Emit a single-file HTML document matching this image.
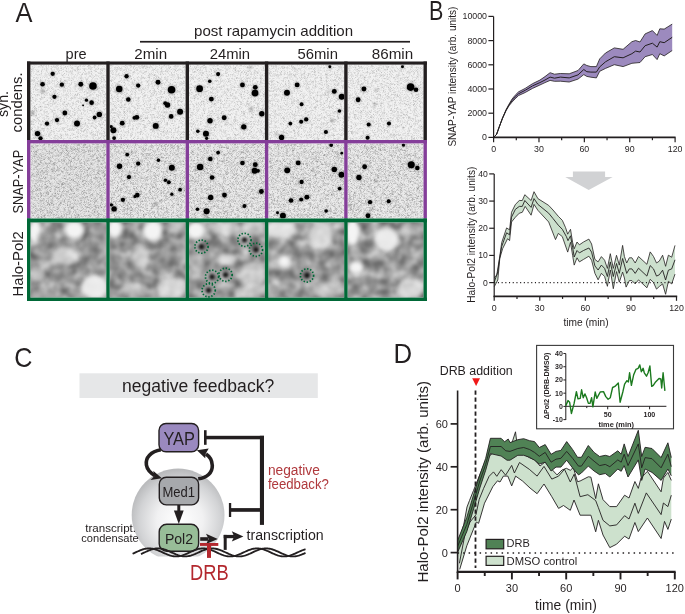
<!DOCTYPE html>
<html><head><meta charset="utf-8"><style>
html,body{margin:0;padding:0;background:#fff;}
#root{position:relative;width:685px;height:614px;overflow:hidden;background:#fff;}
svg text{font-family:"Liberation Sans",sans-serif;}
</style></head><body><div id="root">
<svg width="685" height="614" viewBox="0 0 685 614" style="display:block;will-change:transform;font-family:'Liberation Sans',sans-serif">
<defs>
<filter id="noise" color-interpolation-filters="sRGB" x="0" y="0" width="100%" height="100%">
 <feTurbulence type="fractalNoise" baseFrequency="1.7" numOctaves="2" seed="3" result="t"/>
 <feColorMatrix type="matrix" values="0 0 0 0 0  0 0 0 0 0  0 0 0 0 0  -2.4 0 0 0 1.25" />
 <feGaussianBlur stdDeviation="0.5"/>
</filter>
<filter id="noise2" color-interpolation-filters="sRGB" x="0" y="0" width="100%" height="100%">
 <feTurbulence type="fractalNoise" baseFrequency="1.7" numOctaves="2" seed="7" result="t"/>
 <feColorMatrix type="matrix" values="0 0 0 0 0  0 0 0 0 0  0 0 0 0 0  -2.4 0 0 0 1.3" />
 <feGaussianBlur stdDeviation="0.5"/>
</filter>
<filter id="mottle" color-interpolation-filters="sRGB" x="0" y="0" width="100%" height="100%">
 <feTurbulence type="fractalNoise" baseFrequency="0.35" numOctaves="2" seed="5"/>
 <feColorMatrix type="matrix" values="0 0 0 0 0  0 0 0 0 0  0 0 0 0 0  -3.0 0 0 0 1.55" />
 <feGaussianBlur stdDeviation="0.6"/>
</filter>
<filter id="cloud" color-interpolation-filters="sRGB" x="0" y="0" width="100%" height="100%">
 <feTurbulence type="fractalNoise" baseFrequency="0.1" numOctaves="2" seed="11"/>
 <feColorMatrix type="matrix" values="0.65 0 0 0 0.27  0.65 0 0 0 0.27  0.65 0 0 0 0.27  0 0 0 0 1" />
 <feGaussianBlur stdDeviation="1.6"/>
</filter>
<filter id="b04" color-interpolation-filters="sRGB" x="-50%" y="-50%" width="200%" height="200%"><feGaussianBlur stdDeviation="0.5"/></filter>
<filter id="b1" color-interpolation-filters="sRGB" x="-50%" y="-50%" width="200%" height="200%"><feGaussianBlur stdDeviation="1.2"/></filter>
<filter id="b4" color-interpolation-filters="sRGB" x="-80%" y="-80%" width="260%" height="260%"><feGaussianBlur stdDeviation="4"/></filter>
<filter id="b3" color-interpolation-filters="sRGB" x="-80%" y="-80%" width="260%" height="260%"><feGaussianBlur stdDeviation="3"/></filter>
<filter id="b2" color-interpolation-filters="sRGB" x="-80%" y="-80%" width="260%" height="260%"><feGaussianBlur stdDeviation="2"/></filter>
<radialGradient id="sph" cx="0.52" cy="0.56" r="0.55">
 <stop offset="0" stop-color="#ffffff"/>
 <stop offset="0.45" stop-color="#f1f1f2"/>
 <stop offset="0.8" stop-color="#d2d3d5"/>
 <stop offset="1" stop-color="#b9babc"/>
</radialGradient>
</defs>
<text x="15.60" y="21.50" font-size="27" fill="#231f20" textLength="17.00" lengthAdjust="spacingAndGlyphs">A</text>
<text x="194.10" y="35.80" font-size="15" fill="#231f20" textLength="159.00" lengthAdjust="spacingAndGlyphs">post rapamycin addition</text>
<rect x="140" y="40.9" width="270" height="1.7" fill="#231f20"/>
<text x="65.60" y="58.60" font-size="15" fill="#231f20" textLength="21.00" lengthAdjust="spacingAndGlyphs">pre</text>
<text x="134.30" y="58.60" font-size="15" fill="#231f20" textLength="32.80" lengthAdjust="spacingAndGlyphs">2min</text>
<text x="209.70" y="58.60" font-size="15" fill="#231f20" textLength="40.40" lengthAdjust="spacingAndGlyphs">24min</text>
<text x="297.50" y="58.60" font-size="15" fill="#231f20" textLength="40.40" lengthAdjust="spacingAndGlyphs">56min</text>
<text x="371.80" y="58.60" font-size="15" fill="#231f20" textLength="41.40" lengthAdjust="spacingAndGlyphs">86min</text>
<text transform="translate(7.80,104.00) rotate(-90)" x="0" y="0" font-size="15" fill="#231f20" text-anchor="middle" textLength="26.00" lengthAdjust="spacingAndGlyphs">syn.</text>
<text transform="translate(22.30,102.40) rotate(-90)" x="0" y="0" font-size="15" fill="#231f20" text-anchor="middle" textLength="60.00" lengthAdjust="spacingAndGlyphs">condens.</text>
<text transform="translate(22.60,181.70) rotate(-90)" x="0" y="0" font-size="15" fill="#231f20" text-anchor="middle" textLength="63.80" lengthAdjust="spacingAndGlyphs">SNAP-YAP</text>
<text transform="translate(22.60,263.90) rotate(-90)" x="0" y="0" font-size="15" fill="#231f20" text-anchor="middle" textLength="65.20" lengthAdjust="spacingAndGlyphs">Halo-Pol2</text>
<g>
<clipPath id="c00"><rect x="30.40" y="64.60" width="75.90" height="75.40"/></clipPath>
<g clip-path="url(#c00)">
<rect x="30.40" y="64.60" width="75.90" height="75.40" fill="#f2f2f2"/>
<rect x="30.40" y="64.60" width="75.90" height="75.40" fill="#000" filter="url(#noise)" opacity="0.22"/>
<rect x="30.40" y="64.60" width="75.90" height="75.40" fill="#000" filter="url(#mottle)" opacity="0.1"/>
<circle cx="42.55" cy="91.01" r="2.23" fill="#555" opacity="0.45" filter="url(#b1)"/>
<circle cx="32.41" cy="113.04" r="2.23" fill="#555" opacity="0.45" filter="url(#b1)"/>
<circle cx="52.68" cy="73.84" r="2.60" fill="#000" opacity="0.25" filter="url(#b1)"/>
<circle cx="52.68" cy="73.84" r="2.16" fill="#000" filter="url(#b04)"/>
<circle cx="42.55" cy="84.25" r="2.76" fill="#000" opacity="0.25" filter="url(#b1)"/>
<circle cx="42.55" cy="84.25" r="2.30" fill="#000" filter="url(#b04)"/>
<circle cx="61.88" cy="84.66" r="2.60" fill="#000" opacity="0.25" filter="url(#b1)"/>
<circle cx="61.88" cy="84.66" r="2.16" fill="#000" filter="url(#b04)"/>
<circle cx="80.80" cy="84.25" r="2.92" fill="#000" opacity="0.25" filter="url(#b1)"/>
<circle cx="80.80" cy="84.25" r="2.43" fill="#000" filter="url(#b04)"/>
<circle cx="92.97" cy="86.01" r="4.54" fill="#000" opacity="0.25" filter="url(#b1)"/>
<circle cx="92.97" cy="86.01" r="3.79" fill="#000" filter="url(#b04)"/>
<circle cx="54.44" cy="96.82" r="2.60" fill="#000" opacity="0.25" filter="url(#b1)"/>
<circle cx="54.44" cy="96.82" r="2.16" fill="#000" filter="url(#b04)"/>
<circle cx="86.48" cy="100.20" r="1.95" fill="#000" opacity="0.25" filter="url(#b1)"/>
<circle cx="86.48" cy="100.20" r="1.62" fill="#000" filter="url(#b04)"/>
<circle cx="91.62" cy="102.64" r="2.76" fill="#000" opacity="0.25" filter="url(#b1)"/>
<circle cx="91.62" cy="102.64" r="2.30" fill="#000" filter="url(#b04)"/>
<circle cx="83.10" cy="105.34" r="1.14" fill="#000" opacity="0.25" filter="url(#b1)"/>
<circle cx="83.10" cy="105.34" r="0.95" fill="#000" filter="url(#b04)"/>
<circle cx="64.85" cy="113.04" r="2.92" fill="#000" opacity="0.25" filter="url(#b1)"/>
<circle cx="64.85" cy="113.04" r="2.43" fill="#000" filter="url(#b04)"/>
<circle cx="99.32" cy="114.40" r="3.24" fill="#000" opacity="0.25" filter="url(#b1)"/>
<circle cx="99.32" cy="114.40" r="2.70" fill="#000" filter="url(#b04)"/>
<circle cx="94.59" cy="117.50" r="2.27" fill="#000" opacity="0.25" filter="url(#b1)"/>
<circle cx="94.59" cy="117.50" r="1.89" fill="#000" filter="url(#b04)"/>
<circle cx="57.01" cy="120.07" r="2.60" fill="#000" opacity="0.25" filter="url(#b1)"/>
<circle cx="57.01" cy="120.07" r="2.16" fill="#000" filter="url(#b04)"/>
<circle cx="47.01" cy="123.59" r="2.60" fill="#000" opacity="0.25" filter="url(#b1)"/>
<circle cx="47.01" cy="123.59" r="2.16" fill="#000" filter="url(#b04)"/>
<circle cx="77.02" cy="123.45" r="3.57" fill="#000" opacity="0.25" filter="url(#b1)"/>
<circle cx="77.02" cy="123.45" r="2.97" fill="#000" filter="url(#b04)"/>
<circle cx="37.54" cy="133.59" r="3.24" fill="#000" opacity="0.25" filter="url(#b1)"/>
<circle cx="37.54" cy="133.59" r="2.70" fill="#000" filter="url(#b04)"/>
<circle cx="40.52" cy="138.32" r="2.60" fill="#000" opacity="0.25" filter="url(#b1)"/>
<circle cx="40.52" cy="138.32" r="2.16" fill="#000" filter="url(#b04)"/>
</g>
<clipPath id="c01"><rect x="109.70" y="64.60" width="75.90" height="75.40"/></clipPath>
<g clip-path="url(#c01)">
<rect x="109.70" y="64.60" width="75.90" height="75.40" fill="#f2f2f2"/>
<rect x="109.70" y="64.60" width="75.90" height="75.40" fill="#000" filter="url(#noise)" opacity="0.22"/>
<rect x="109.70" y="64.60" width="75.90" height="75.40" fill="#000" filter="url(#mottle)" opacity="0.1"/>
<circle cx="126.55" cy="76.28" r="2.60" fill="#000" opacity="0.25" filter="url(#b1)"/>
<circle cx="126.55" cy="76.28" r="2.16" fill="#000" filter="url(#b04)"/>
<circle cx="119.25" cy="88.98" r="3.89" fill="#000" opacity="0.25" filter="url(#b1)"/>
<circle cx="119.25" cy="88.98" r="3.24" fill="#000" filter="url(#b04)"/>
<circle cx="138.17" cy="85.60" r="2.60" fill="#000" opacity="0.25" filter="url(#b1)"/>
<circle cx="138.17" cy="85.60" r="2.16" fill="#000" filter="url(#b04)"/>
<circle cx="158.04" cy="82.22" r="2.92" fill="#000" opacity="0.25" filter="url(#b1)"/>
<circle cx="158.04" cy="82.22" r="2.43" fill="#000" filter="url(#b04)"/>
<circle cx="171.56" cy="89.79" r="4.54" fill="#000" opacity="0.25" filter="url(#b1)"/>
<circle cx="171.56" cy="89.79" r="3.79" fill="#000" filter="url(#b04)"/>
<circle cx="128.30" cy="99.53" r="2.76" fill="#000" opacity="0.25" filter="url(#b1)"/>
<circle cx="128.30" cy="99.53" r="2.30" fill="#000" filter="url(#b04)"/>
<circle cx="167.51" cy="104.93" r="3.24" fill="#000" opacity="0.25" filter="url(#b1)"/>
<circle cx="167.51" cy="104.93" r="2.70" fill="#000" filter="url(#b04)"/>
<circle cx="165.21" cy="103.18" r="2.27" fill="#000" opacity="0.25" filter="url(#b1)"/>
<circle cx="165.21" cy="103.18" r="1.89" fill="#000" filter="url(#b04)"/>
<circle cx="180.08" cy="111.69" r="3.57" fill="#000" opacity="0.25" filter="url(#b1)"/>
<circle cx="180.08" cy="111.69" r="2.97" fill="#000" filter="url(#b04)"/>
<circle cx="136.82" cy="117.37" r="2.92" fill="#000" opacity="0.25" filter="url(#b1)"/>
<circle cx="136.82" cy="117.37" r="2.43" fill="#000" filter="url(#b04)"/>
<circle cx="134.39" cy="117.78" r="2.27" fill="#000" opacity="0.25" filter="url(#b1)"/>
<circle cx="134.39" cy="117.78" r="1.89" fill="#000" filter="url(#b04)"/>
<circle cx="171.16" cy="116.42" r="2.76" fill="#000" opacity="0.25" filter="url(#b1)"/>
<circle cx="171.16" cy="116.42" r="2.30" fill="#000" filter="url(#b04)"/>
<circle cx="122.22" cy="123.18" r="2.92" fill="#000" opacity="0.25" filter="url(#b1)"/>
<circle cx="122.22" cy="123.18" r="2.43" fill="#000" filter="url(#b04)"/>
<circle cx="155.75" cy="125.89" r="3.57" fill="#000" opacity="0.25" filter="url(#b1)"/>
<circle cx="155.75" cy="125.89" r="2.97" fill="#000" filter="url(#b04)"/>
<circle cx="113.43" cy="130.21" r="3.57" fill="#000" opacity="0.25" filter="url(#b1)"/>
<circle cx="113.43" cy="130.21" r="2.97" fill="#000" filter="url(#b04)"/>
<circle cx="111.14" cy="126.56" r="1.95" fill="#000" opacity="0.25" filter="url(#b1)"/>
<circle cx="111.14" cy="126.56" r="1.62" fill="#000" filter="url(#b04)"/>
<circle cx="114.11" cy="138.05" r="2.27" fill="#000" opacity="0.25" filter="url(#b1)"/>
<circle cx="114.11" cy="138.05" r="1.89" fill="#000" filter="url(#b04)"/>
</g>
<clipPath id="c02"><rect x="189.00" y="64.60" width="75.90" height="75.40"/></clipPath>
<g clip-path="url(#c02)">
<rect x="189.00" y="64.60" width="75.90" height="75.40" fill="#f2f2f2"/>
<rect x="189.00" y="64.60" width="75.90" height="75.40" fill="#000" filter="url(#noise)" opacity="0.22"/>
<rect x="189.00" y="64.60" width="75.90" height="75.40" fill="#000" filter="url(#mottle)" opacity="0.1"/>
<circle cx="249.89" cy="67.49" r="1.49" fill="#555" opacity="0.45" filter="url(#b1)"/>
<circle cx="251.24" cy="108.99" r="2.08" fill="#555" opacity="0.45" filter="url(#b1)"/>
<circle cx="218.12" cy="74.11" r="2.43" fill="#000" opacity="0.25" filter="url(#b1)"/>
<circle cx="218.12" cy="74.11" r="2.03" fill="#000" filter="url(#b04)"/>
<circle cx="209.74" cy="81.28" r="2.11" fill="#000" opacity="0.25" filter="url(#b1)"/>
<circle cx="209.74" cy="81.28" r="1.76" fill="#000" filter="url(#b04)"/>
<circle cx="199.60" cy="88.71" r="4.06" fill="#000" opacity="0.25" filter="url(#b1)"/>
<circle cx="199.60" cy="88.71" r="3.38" fill="#000" filter="url(#b04)"/>
<circle cx="211.36" cy="99.12" r="2.92" fill="#000" opacity="0.25" filter="url(#b1)"/>
<circle cx="211.36" cy="99.12" r="2.43" fill="#000" filter="url(#b04)"/>
<circle cx="242.45" cy="84.93" r="2.92" fill="#000" opacity="0.25" filter="url(#b1)"/>
<circle cx="242.45" cy="84.93" r="2.43" fill="#000" filter="url(#b04)"/>
<circle cx="255.29" cy="87.36" r="2.92" fill="#000" opacity="0.25" filter="url(#b1)"/>
<circle cx="255.29" cy="87.36" r="2.43" fill="#000" filter="url(#b04)"/>
<circle cx="255.02" cy="93.04" r="4.06" fill="#000" opacity="0.25" filter="url(#b1)"/>
<circle cx="255.02" cy="93.04" r="3.38" fill="#000" filter="url(#b04)"/>
<circle cx="224.20" cy="117.78" r="2.92" fill="#000" opacity="0.25" filter="url(#b1)"/>
<circle cx="224.20" cy="117.78" r="2.43" fill="#000" filter="url(#b04)"/>
<circle cx="210.01" cy="120.75" r="3.24" fill="#000" opacity="0.25" filter="url(#b1)"/>
<circle cx="210.01" cy="120.75" r="2.70" fill="#000" filter="url(#b04)"/>
<circle cx="261.78" cy="113.72" r="3.24" fill="#000" opacity="0.25" filter="url(#b1)"/>
<circle cx="261.78" cy="113.72" r="2.70" fill="#000" filter="url(#b04)"/>
<circle cx="243.80" cy="126.83" r="3.24" fill="#000" opacity="0.25" filter="url(#b1)"/>
<circle cx="243.80" cy="126.83" r="2.70" fill="#000" filter="url(#b04)"/>
<circle cx="197.84" cy="131.29" r="2.11" fill="#000" opacity="0.25" filter="url(#b1)"/>
<circle cx="197.84" cy="131.29" r="1.76" fill="#000" filter="url(#b04)"/>
<circle cx="205.95" cy="133.73" r="3.57" fill="#000" opacity="0.25" filter="url(#b1)"/>
<circle cx="205.95" cy="133.73" r="2.97" fill="#000" filter="url(#b04)"/>
<circle cx="206.63" cy="138.32" r="1.95" fill="#000" opacity="0.25" filter="url(#b1)"/>
<circle cx="206.63" cy="138.32" r="1.62" fill="#000" filter="url(#b04)"/>
</g>
<clipPath id="c03"><rect x="268.30" y="64.60" width="75.90" height="75.40"/></clipPath>
<g clip-path="url(#c03)">
<rect x="268.30" y="64.60" width="75.90" height="75.40" fill="#f2f2f2"/>
<rect x="268.30" y="64.60" width="75.90" height="75.40" fill="#000" filter="url(#noise)" opacity="0.22"/>
<rect x="268.30" y="64.60" width="75.90" height="75.40" fill="#000" filter="url(#mottle)" opacity="0.1"/>
<circle cx="340.38" cy="67.08" r="1.19" fill="#555" opacity="0.45" filter="url(#b1)"/>
<circle cx="327.53" cy="91.82" r="1.19" fill="#555" opacity="0.45" filter="url(#b1)"/>
<circle cx="276.84" cy="134.00" r="1.34" fill="#555" opacity="0.45" filter="url(#b1)"/>
<circle cx="332.27" cy="120.48" r="2.08" fill="#555" opacity="0.45" filter="url(#b1)"/>
<circle cx="329.83" cy="66.68" r="1.78" fill="#000" opacity="0.25" filter="url(#b1)"/>
<circle cx="329.83" cy="66.68" r="1.49" fill="#000" filter="url(#b04)"/>
<circle cx="297.12" cy="84.93" r="2.92" fill="#000" opacity="0.25" filter="url(#b1)"/>
<circle cx="297.12" cy="84.93" r="2.43" fill="#000" filter="url(#b04)"/>
<circle cx="286.98" cy="92.77" r="3.57" fill="#000" opacity="0.25" filter="url(#b1)"/>
<circle cx="286.98" cy="92.77" r="2.97" fill="#000" filter="url(#b04)"/>
<circle cx="334.29" cy="91.42" r="2.92" fill="#000" opacity="0.25" filter="url(#b1)"/>
<circle cx="334.29" cy="91.42" r="2.43" fill="#000" filter="url(#b04)"/>
<circle cx="341.73" cy="96.82" r="3.57" fill="#000" opacity="0.25" filter="url(#b1)"/>
<circle cx="341.73" cy="96.82" r="2.97" fill="#000" filter="url(#b04)"/>
<circle cx="301.58" cy="104.26" r="2.27" fill="#000" opacity="0.25" filter="url(#b1)"/>
<circle cx="301.58" cy="104.26" r="1.89" fill="#000" filter="url(#b04)"/>
<circle cx="339.43" cy="111.02" r="2.11" fill="#000" opacity="0.25" filter="url(#b1)"/>
<circle cx="339.43" cy="111.02" r="1.76" fill="#000" filter="url(#b04)"/>
<circle cx="306.18" cy="119.40" r="2.60" fill="#000" opacity="0.25" filter="url(#b1)"/>
<circle cx="306.18" cy="119.40" r="2.16" fill="#000" filter="url(#b04)"/>
<circle cx="301.17" cy="121.83" r="2.43" fill="#000" opacity="0.25" filter="url(#b1)"/>
<circle cx="301.17" cy="121.83" r="2.03" fill="#000" filter="url(#b04)"/>
<circle cx="290.36" cy="123.59" r="2.27" fill="#000" opacity="0.25" filter="url(#b1)"/>
<circle cx="290.36" cy="123.59" r="1.89" fill="#000" filter="url(#b04)"/>
<circle cx="325.91" cy="131.97" r="2.43" fill="#000" opacity="0.25" filter="url(#b1)"/>
<circle cx="325.91" cy="131.97" r="2.03" fill="#000" filter="url(#b04)"/>
<circle cx="281.57" cy="137.38" r="3.24" fill="#000" opacity="0.25" filter="url(#b1)"/>
<circle cx="281.57" cy="137.38" r="2.70" fill="#000" filter="url(#b04)"/>
</g>
<clipPath id="c04"><rect x="347.60" y="64.60" width="75.90" height="75.40"/></clipPath>
<g clip-path="url(#c04)">
<rect x="347.60" y="64.60" width="75.90" height="75.40" fill="#f2f2f2"/>
<rect x="347.60" y="64.60" width="75.90" height="75.40" fill="#000" filter="url(#noise)" opacity="0.22"/>
<rect x="347.60" y="64.60" width="75.90" height="75.40" fill="#000" filter="url(#mottle)" opacity="0.1"/>
<circle cx="376.12" cy="90.06" r="1.49" fill="#555" opacity="0.45" filter="url(#b1)"/>
<circle cx="374.77" cy="104.26" r="1.49" fill="#555" opacity="0.45" filter="url(#b1)"/>
<circle cx="402.48" cy="66.68" r="1.78" fill="#000" opacity="0.25" filter="url(#b1)"/>
<circle cx="402.48" cy="66.68" r="1.49" fill="#000" filter="url(#b04)"/>
<circle cx="363.95" cy="88.98" r="2.92" fill="#000" opacity="0.25" filter="url(#b1)"/>
<circle cx="363.95" cy="88.98" r="2.43" fill="#000" filter="url(#b04)"/>
<circle cx="358.14" cy="99.80" r="2.92" fill="#000" opacity="0.25" filter="url(#b1)"/>
<circle cx="358.14" cy="99.80" r="2.43" fill="#000" filter="url(#b04)"/>
<circle cx="410.59" cy="87.09" r="4.54" fill="#000" opacity="0.25" filter="url(#b1)"/>
<circle cx="410.59" cy="87.09" r="3.79" fill="#000" filter="url(#b04)"/>
<circle cx="416.00" cy="89.79" r="2.76" fill="#000" opacity="0.25" filter="url(#b1)"/>
<circle cx="416.00" cy="89.79" r="2.30" fill="#000" filter="url(#b04)"/>
<circle cx="368.68" cy="124.53" r="2.43" fill="#000" opacity="0.25" filter="url(#b1)"/>
<circle cx="368.68" cy="124.53" r="2.03" fill="#000" filter="url(#b04)"/>
<circle cx="388.96" cy="123.59" r="2.43" fill="#000" opacity="0.25" filter="url(#b1)"/>
<circle cx="388.96" cy="123.59" r="2.03" fill="#000" filter="url(#b04)"/>
<circle cx="367.60" cy="137.78" r="2.43" fill="#000" opacity="0.25" filter="url(#b1)"/>
<circle cx="367.60" cy="137.78" r="2.03" fill="#000" filter="url(#b04)"/>
</g>
<clipPath id="c10"><rect x="30.40" y="143.40" width="75.90" height="75.10"/></clipPath>
<g clip-path="url(#c10)">
<rect x="30.40" y="143.40" width="75.90" height="75.10" fill="#e6e6e6"/>
<rect x="30.40" y="143.40" width="75.90" height="75.10" fill="#000" filter="url(#noise2)" opacity="0.32"/>
<rect x="30.40" y="143.40" width="75.90" height="75.10" fill="#000" filter="url(#mottle)" opacity="0.16"/>
</g>
<clipPath id="c11"><rect x="109.70" y="143.40" width="75.90" height="75.10"/></clipPath>
<g clip-path="url(#c11)">
<rect x="109.70" y="143.40" width="75.90" height="75.10" fill="#ebebeb"/>
<rect x="109.70" y="143.40" width="75.90" height="75.10" fill="#000" filter="url(#noise2)" opacity="0.32"/>
<rect x="109.70" y="143.40" width="75.90" height="75.10" fill="#000" filter="url(#mottle)" opacity="0.16"/>
<circle cx="155.75" cy="203.89" r="2.23" fill="#555" opacity="0.45" filter="url(#b1)"/>
<circle cx="127.22" cy="154.55" r="2.27" fill="#000" opacity="0.25" filter="url(#b1)"/>
<circle cx="127.22" cy="154.55" r="1.89" fill="#000" filter="url(#b04)"/>
<circle cx="119.52" cy="166.31" r="3.24" fill="#000" opacity="0.25" filter="url(#b1)"/>
<circle cx="119.52" cy="166.31" r="2.70" fill="#000" filter="url(#b04)"/>
<circle cx="138.17" cy="163.60" r="2.60" fill="#000" opacity="0.25" filter="url(#b1)"/>
<circle cx="138.17" cy="163.60" r="2.16" fill="#000" filter="url(#b04)"/>
<circle cx="158.45" cy="160.36" r="2.11" fill="#000" opacity="0.25" filter="url(#b1)"/>
<circle cx="158.45" cy="160.36" r="1.76" fill="#000" filter="url(#b04)"/>
<circle cx="171.83" cy="167.66" r="3.57" fill="#000" opacity="0.25" filter="url(#b1)"/>
<circle cx="171.83" cy="167.66" r="2.97" fill="#000" filter="url(#b04)"/>
<circle cx="128.98" cy="177.12" r="2.60" fill="#000" opacity="0.25" filter="url(#b1)"/>
<circle cx="128.98" cy="177.12" r="2.16" fill="#000" filter="url(#b04)"/>
<circle cx="165.48" cy="180.23" r="2.11" fill="#000" opacity="0.25" filter="url(#b1)"/>
<circle cx="165.48" cy="180.23" r="1.76" fill="#000" filter="url(#b04)"/>
<circle cx="168.86" cy="182.26" r="2.27" fill="#000" opacity="0.25" filter="url(#b1)"/>
<circle cx="168.86" cy="182.26" r="1.89" fill="#000" filter="url(#b04)"/>
<circle cx="180.08" cy="189.69" r="2.27" fill="#000" opacity="0.25" filter="url(#b1)"/>
<circle cx="180.08" cy="189.69" r="1.89" fill="#000" filter="url(#b04)"/>
<circle cx="137.36" cy="195.10" r="2.76" fill="#000" opacity="0.25" filter="url(#b1)"/>
<circle cx="137.36" cy="195.10" r="2.30" fill="#000" filter="url(#b04)"/>
<circle cx="135.06" cy="196.45" r="1.95" fill="#000" opacity="0.25" filter="url(#b1)"/>
<circle cx="135.06" cy="196.45" r="1.62" fill="#000" filter="url(#b04)"/>
<circle cx="171.83" cy="194.15" r="1.95" fill="#000" opacity="0.25" filter="url(#b1)"/>
<circle cx="171.83" cy="194.15" r="1.62" fill="#000" filter="url(#b04)"/>
<circle cx="122.90" cy="199.83" r="2.60" fill="#000" opacity="0.25" filter="url(#b1)"/>
<circle cx="122.90" cy="199.83" r="2.16" fill="#000" filter="url(#b04)"/>
<circle cx="114.11" cy="208.89" r="3.24" fill="#000" opacity="0.25" filter="url(#b1)"/>
<circle cx="114.11" cy="208.89" r="2.70" fill="#000" filter="url(#b04)"/>
<circle cx="111.41" cy="204.83" r="1.95" fill="#000" opacity="0.25" filter="url(#b1)"/>
<circle cx="111.41" cy="204.83" r="1.62" fill="#000" filter="url(#b04)"/>
</g>
<clipPath id="c12"><rect x="189.00" y="143.40" width="75.90" height="75.10"/></clipPath>
<g clip-path="url(#c12)">
<rect x="189.00" y="143.40" width="75.90" height="75.10" fill="#ebebeb"/>
<rect x="189.00" y="143.40" width="75.90" height="75.10" fill="#000" filter="url(#noise2)" opacity="0.32"/>
<rect x="189.00" y="143.40" width="75.90" height="75.10" fill="#000" filter="url(#mottle)" opacity="0.16"/>
<circle cx="206.36" cy="216.73" r="1.78" fill="#555" opacity="0.45" filter="url(#b1)"/>
<circle cx="218.12" cy="152.52" r="2.27" fill="#000" opacity="0.25" filter="url(#b1)"/>
<circle cx="218.12" cy="152.52" r="1.89" fill="#000" filter="url(#b04)"/>
<circle cx="210.28" cy="159.01" r="2.76" fill="#000" opacity="0.25" filter="url(#b1)"/>
<circle cx="210.28" cy="159.01" r="2.30" fill="#000" filter="url(#b04)"/>
<circle cx="200.14" cy="166.98" r="3.89" fill="#000" opacity="0.25" filter="url(#b1)"/>
<circle cx="200.14" cy="166.98" r="3.24" fill="#000" filter="url(#b04)"/>
<circle cx="212.04" cy="177.53" r="2.76" fill="#000" opacity="0.25" filter="url(#b1)"/>
<circle cx="212.04" cy="177.53" r="2.30" fill="#000" filter="url(#b04)"/>
<circle cx="242.45" cy="163.06" r="2.76" fill="#000" opacity="0.25" filter="url(#b1)"/>
<circle cx="242.45" cy="163.06" r="2.30" fill="#000" filter="url(#b04)"/>
<circle cx="255.29" cy="164.68" r="2.92" fill="#000" opacity="0.25" filter="url(#b1)"/>
<circle cx="255.29" cy="164.68" r="2.43" fill="#000" filter="url(#b04)"/>
<circle cx="254.62" cy="170.77" r="3.57" fill="#000" opacity="0.25" filter="url(#b1)"/>
<circle cx="254.62" cy="170.77" r="2.97" fill="#000" filter="url(#b04)"/>
<circle cx="258.00" cy="170.77" r="2.27" fill="#000" opacity="0.25" filter="url(#b1)"/>
<circle cx="258.00" cy="170.77" r="1.89" fill="#000" filter="url(#b04)"/>
<circle cx="224.47" cy="195.10" r="2.92" fill="#000" opacity="0.25" filter="url(#b1)"/>
<circle cx="224.47" cy="195.10" r="2.43" fill="#000" filter="url(#b04)"/>
<circle cx="210.68" cy="197.53" r="3.24" fill="#000" opacity="0.25" filter="url(#b1)"/>
<circle cx="210.68" cy="197.53" r="2.70" fill="#000" filter="url(#b04)"/>
<circle cx="261.38" cy="191.45" r="2.92" fill="#000" opacity="0.25" filter="url(#b1)"/>
<circle cx="261.38" cy="191.45" r="2.43" fill="#000" filter="url(#b04)"/>
<circle cx="244.48" cy="205.91" r="2.43" fill="#000" opacity="0.25" filter="url(#b1)"/>
<circle cx="244.48" cy="205.91" r="2.03" fill="#000" filter="url(#b04)"/>
<circle cx="197.44" cy="209.29" r="2.11" fill="#000" opacity="0.25" filter="url(#b1)"/>
<circle cx="197.44" cy="209.29" r="1.76" fill="#000" filter="url(#b04)"/>
<circle cx="206.63" cy="211.32" r="3.57" fill="#000" opacity="0.25" filter="url(#b1)"/>
<circle cx="206.63" cy="211.32" r="2.97" fill="#000" filter="url(#b04)"/>
</g>
<clipPath id="c13"><rect x="268.30" y="143.40" width="75.90" height="75.10"/></clipPath>
<g clip-path="url(#c13)">
<rect x="268.30" y="143.40" width="75.90" height="75.10" fill="#ebebeb"/>
<rect x="268.30" y="143.40" width="75.90" height="75.10" fill="#000" filter="url(#noise2)" opacity="0.32"/>
<rect x="268.30" y="143.40" width="75.90" height="75.10" fill="#000" filter="url(#mottle)" opacity="0.16"/>
<circle cx="331.18" cy="145.08" r="2.27" fill="#000" opacity="0.25" filter="url(#b1)"/>
<circle cx="331.18" cy="145.08" r="1.89" fill="#000" filter="url(#b04)"/>
<circle cx="341.73" cy="153.19" r="1.62" fill="#000" opacity="0.25" filter="url(#b1)"/>
<circle cx="341.73" cy="153.19" r="1.35" fill="#000" filter="url(#b04)"/>
<circle cx="298.20" cy="162.93" r="2.92" fill="#000" opacity="0.25" filter="url(#b1)"/>
<circle cx="298.20" cy="162.93" r="2.43" fill="#000" filter="url(#b04)"/>
<circle cx="287.25" cy="170.36" r="3.57" fill="#000" opacity="0.25" filter="url(#b1)"/>
<circle cx="287.25" cy="170.36" r="2.97" fill="#000" filter="url(#b04)"/>
<circle cx="334.29" cy="169.42" r="3.24" fill="#000" opacity="0.25" filter="url(#b1)"/>
<circle cx="334.29" cy="169.42" r="2.70" fill="#000" filter="url(#b04)"/>
<circle cx="341.46" cy="174.82" r="3.57" fill="#000" opacity="0.25" filter="url(#b1)"/>
<circle cx="341.46" cy="174.82" r="2.97" fill="#000" filter="url(#b04)"/>
<circle cx="301.58" cy="181.99" r="2.60" fill="#000" opacity="0.25" filter="url(#b1)"/>
<circle cx="301.58" cy="181.99" r="2.16" fill="#000" filter="url(#b04)"/>
<circle cx="339.70" cy="188.61" r="2.27" fill="#000" opacity="0.25" filter="url(#b1)"/>
<circle cx="339.70" cy="188.61" r="1.89" fill="#000" filter="url(#b04)"/>
<circle cx="306.85" cy="197.13" r="2.92" fill="#000" opacity="0.25" filter="url(#b1)"/>
<circle cx="306.85" cy="197.13" r="2.43" fill="#000" filter="url(#b04)"/>
<circle cx="301.17" cy="199.56" r="2.43" fill="#000" opacity="0.25" filter="url(#b1)"/>
<circle cx="301.17" cy="199.56" r="2.03" fill="#000" filter="url(#b04)"/>
<circle cx="291.04" cy="200.51" r="2.76" fill="#000" opacity="0.25" filter="url(#b1)"/>
<circle cx="291.04" cy="200.51" r="2.30" fill="#000" filter="url(#b04)"/>
<circle cx="326.18" cy="210.92" r="2.11" fill="#000" opacity="0.25" filter="url(#b1)"/>
<circle cx="326.18" cy="210.92" r="1.76" fill="#000" filter="url(#b04)"/>
<circle cx="282.93" cy="215.65" r="3.57" fill="#000" opacity="0.25" filter="url(#b1)"/>
<circle cx="282.93" cy="215.65" r="2.97" fill="#000" filter="url(#b04)"/>
<circle cx="277.52" cy="212.67" r="1.78" fill="#000" opacity="0.25" filter="url(#b1)"/>
<circle cx="277.52" cy="212.67" r="1.49" fill="#000" filter="url(#b04)"/>
</g>
<clipPath id="c14"><rect x="347.60" y="143.40" width="75.90" height="75.10"/></clipPath>
<g clip-path="url(#c14)">
<rect x="347.60" y="143.40" width="75.90" height="75.10" fill="#ebebeb"/>
<rect x="347.60" y="143.40" width="75.90" height="75.10" fill="#000" filter="url(#noise2)" opacity="0.32"/>
<rect x="347.60" y="143.40" width="75.90" height="75.10" fill="#000" filter="url(#mottle)" opacity="0.16"/>
<circle cx="375.44" cy="181.58" r="1.49" fill="#555" opacity="0.45" filter="url(#b1)"/>
<circle cx="349.49" cy="205.91" r="1.49" fill="#555" opacity="0.45" filter="url(#b1)"/>
<circle cx="371.39" cy="209.29" r="1.34" fill="#555" opacity="0.45" filter="url(#b1)"/>
<circle cx="403.43" cy="145.08" r="1.95" fill="#000" opacity="0.25" filter="url(#b1)"/>
<circle cx="403.43" cy="145.08" r="1.62" fill="#000" filter="url(#b04)"/>
<circle cx="364.63" cy="166.71" r="2.92" fill="#000" opacity="0.25" filter="url(#b1)"/>
<circle cx="364.63" cy="166.71" r="2.43" fill="#000" filter="url(#b04)"/>
<circle cx="358.95" cy="177.53" r="3.24" fill="#000" opacity="0.25" filter="url(#b1)"/>
<circle cx="358.95" cy="177.53" r="2.70" fill="#000" filter="url(#b04)"/>
<circle cx="411.27" cy="164.68" r="4.22" fill="#000" opacity="0.25" filter="url(#b1)"/>
<circle cx="411.27" cy="164.68" r="3.51" fill="#000" filter="url(#b04)"/>
<circle cx="417.35" cy="168.06" r="2.76" fill="#000" opacity="0.25" filter="url(#b1)"/>
<circle cx="417.35" cy="168.06" r="2.30" fill="#000" filter="url(#b04)"/>
<circle cx="370.04" cy="202.13" r="2.60" fill="#000" opacity="0.25" filter="url(#b1)"/>
<circle cx="370.04" cy="202.13" r="2.16" fill="#000" filter="url(#b04)"/>
<circle cx="388.69" cy="201.18" r="2.43" fill="#000" opacity="0.25" filter="url(#b1)"/>
<circle cx="388.69" cy="201.18" r="2.03" fill="#000" filter="url(#b04)"/>
<circle cx="368.01" cy="215.78" r="2.92" fill="#000" opacity="0.25" filter="url(#b1)"/>
<circle cx="368.01" cy="215.78" r="2.43" fill="#000" filter="url(#b04)"/>
</g>
<clipPath id="c20"><rect x="30.40" y="222.40" width="75.90" height="75.20"/></clipPath>
<g clip-path="url(#c20)">
<rect x="24.40" y="216.40" width="87.90" height="87.20" fill="#9d9d9d" filter="url(#cloud)"/>
<ellipse cx="35.11" cy="231.52" rx="6.49" ry="11.36" fill="#f4f4f4" opacity="1.00" filter="url(#b2)"/>
<ellipse cx="74.31" cy="230.17" rx="9.73" ry="8.92" fill="#f4f4f4" opacity="1.00" filter="url(#b2)"/>
<ellipse cx="65.53" cy="255.85" rx="12.98" ry="9.73" fill="#f4f4f4" opacity="0.60" filter="url(#b2)"/>
<ellipse cx="94.59" cy="286.94" rx="13.79" ry="12.17" fill="#f4f4f4" opacity="0.90" filter="url(#b2)"/>
<ellipse cx="36.46" cy="274.78" rx="6.49" ry="7.30" fill="#f4f4f4" opacity="0.45" filter="url(#b2)"/>
<ellipse cx="41.87" cy="295.05" rx="12.98" ry="4.06" fill="#f4f4f4" opacity="0.40" filter="url(#b2)"/>
<ellipse cx="41.87" cy="238.28" rx="4.87" ry="6.49" fill="#6a6a6a" opacity="0.35" filter="url(#b2)"/>
<ellipse cx="60.79" cy="277.48" rx="4.06" ry="4.06" fill="#6a6a6a" opacity="0.45" filter="url(#b2)"/>
<ellipse cx="48.63" cy="228.81" rx="3.24" ry="3.24" fill="#6a6a6a" opacity="0.35" filter="url(#b2)"/>
<ellipse cx="90.53" cy="251.79" rx="9.73" ry="11.36" fill="#6a6a6a" opacity="0.25" filter="url(#b2)"/>
</g>
<clipPath id="c21"><rect x="109.70" y="222.40" width="75.90" height="75.20"/></clipPath>
<g clip-path="url(#c21)">
<rect x="103.70" y="216.40" width="87.90" height="87.20" fill="#9d9d9d" filter="url(#cloud)"/>
<ellipse cx="114.79" cy="228.81" rx="7.30" ry="8.92" fill="#f4f4f4" opacity="1.00" filter="url(#b2)"/>
<ellipse cx="152.64" cy="230.84" rx="9.73" ry="9.73" fill="#f4f4f4" opacity="1.00" filter="url(#b2)"/>
<ellipse cx="140.47" cy="257.20" rx="8.92" ry="11.36" fill="#f4f4f4" opacity="0.55" filter="url(#b2)"/>
<ellipse cx="172.24" cy="287.62" rx="15.41" ry="10.54" fill="#f4f4f4" opacity="0.70" filter="url(#b2)"/>
<ellipse cx="135.74" cy="291.00" rx="12.98" ry="6.49" fill="#f4f4f4" opacity="0.45" filter="url(#b2)"/>
<ellipse cx="174.94" cy="227.46" rx="11.36" ry="4.87" fill="#f4f4f4" opacity="0.35" filter="url(#b2)"/>
<ellipse cx="122.22" cy="273.42" rx="3.24" ry="3.24" fill="#6a6a6a" opacity="0.50" filter="url(#b2)"/>
<ellipse cx="164.13" cy="258.55" rx="11.36" ry="11.36" fill="#6a6a6a" opacity="0.25" filter="url(#b2)"/>
</g>
<clipPath id="c22"><rect x="189.00" y="222.40" width="75.90" height="75.20"/></clipPath>
<g clip-path="url(#c22)">
<rect x="183.00" y="216.40" width="87.90" height="87.20" fill="#9d9d9d" filter="url(#cloud)"/>
<ellipse cx="195.81" cy="230.17" rx="8.92" ry="8.92" fill="#f4f4f4" opacity="1.00" filter="url(#b2)"/>
<ellipse cx="225.55" cy="228.14" rx="16.22" ry="6.49" fill="#f4f4f4" opacity="0.60" filter="url(#b2)"/>
<ellipse cx="226.91" cy="259.23" rx="9.73" ry="5.68" fill="#f4f4f4" opacity="0.70" filter="url(#b2)"/>
<ellipse cx="252.59" cy="274.78" rx="12.98" ry="12.98" fill="#f4f4f4" opacity="0.55" filter="url(#b2)"/>
<ellipse cx="195.81" cy="263.96" rx="8.11" ry="8.92" fill="#f4f4f4" opacity="0.45" filter="url(#b2)"/>
<ellipse cx="252.59" cy="228.81" rx="11.36" ry="7.30" fill="#f4f4f4" opacity="0.50" filter="url(#b2)"/>
<ellipse cx="251.24" cy="291.67" rx="14.60" ry="6.49" fill="#f4f4f4" opacity="0.50" filter="url(#b2)"/>
</g>
<clipPath id="c23"><rect x="268.30" y="222.40" width="75.90" height="75.20"/></clipPath>
<g clip-path="url(#c23)">
<rect x="262.30" y="216.40" width="87.90" height="87.20" fill="#9d9d9d" filter="url(#cloud)"/>
<ellipse cx="280.22" cy="230.17" rx="16.22" ry="8.92" fill="#f4f4f4" opacity="0.80" filter="url(#b2)"/>
<ellipse cx="320.78" cy="235.57" rx="12.17" ry="13.79" fill="#f4f4f4" opacity="0.70" filter="url(#b2)"/>
<ellipse cx="284.28" cy="261.26" rx="6.49" ry="6.49" fill="#f4f4f4" opacity="1.00" filter="url(#b2)"/>
<ellipse cx="327.53" cy="289.64" rx="16.22" ry="8.11" fill="#f4f4f4" opacity="0.50" filter="url(#b2)"/>
<ellipse cx="273.46" cy="292.35" rx="8.11" ry="5.68" fill="#f4f4f4" opacity="0.35" filter="url(#b2)"/>
<ellipse cx="303.20" cy="261.26" rx="4.06" ry="4.06" fill="#6a6a6a" opacity="0.35" filter="url(#b2)"/>
</g>
<clipPath id="c24"><rect x="347.60" y="222.40" width="75.90" height="75.20"/></clipPath>
<g clip-path="url(#c24)">
<rect x="341.60" y="216.40" width="87.90" height="87.20" fill="#9d9d9d" filter="url(#cloud)"/>
<ellipse cx="352.46" cy="232.87" rx="7.30" ry="12.98" fill="#f4f4f4" opacity="1.00" filter="url(#b2)"/>
<ellipse cx="386.26" cy="239.63" rx="12.17" ry="12.17" fill="#f4f4f4" opacity="0.90" filter="url(#b2)"/>
<ellipse cx="356.52" cy="267.34" rx="7.30" ry="6.49" fill="#f4f4f4" opacity="1.00" filter="url(#b2)"/>
<ellipse cx="410.59" cy="288.29" rx="12.98" ry="10.54" fill="#f4f4f4" opacity="0.70" filter="url(#b2)"/>
<ellipse cx="411.94" cy="228.81" rx="11.36" ry="6.49" fill="#f4f4f4" opacity="0.40" filter="url(#b2)"/>
<ellipse cx="394.37" cy="258.55" rx="4.87" ry="4.87" fill="#6a6a6a" opacity="0.35" filter="url(#b2)"/>
<ellipse cx="370.04" cy="281.53" rx="6.49" ry="6.49" fill="#6a6a6a" opacity="0.30" filter="url(#b2)"/>
</g>
<circle cx="201.49" cy="246.66" r="2.6" fill="#111" filter="url(#b1)" opacity="0.9"/>
<circle cx="244.48" cy="239.90" r="2.6" fill="#111" filter="url(#b1)" opacity="0.9"/>
<circle cx="255.97" cy="249.77" r="2.6" fill="#111" filter="url(#b1)" opacity="0.9"/>
<circle cx="212.04" cy="276.80" r="2.6" fill="#111" filter="url(#b1)" opacity="0.9"/>
<circle cx="225.55" cy="274.78" r="2.6" fill="#111" filter="url(#b1)" opacity="0.9"/>
<circle cx="208.66" cy="290.32" r="2.6" fill="#111" filter="url(#b1)" opacity="0.9"/>
<circle cx="306.99" cy="275.45" r="2.6" fill="#111" filter="url(#b1)" opacity="0.9"/>
<circle cx="201.49" cy="246.66" r="6.6" fill="none" stroke="#006837" stroke-width="1.7" stroke-dasharray="1.4 1.7"/>
<circle cx="244.48" cy="239.90" r="6.6" fill="none" stroke="#006837" stroke-width="1.7" stroke-dasharray="1.4 1.7"/>
<circle cx="255.97" cy="249.77" r="6.6" fill="none" stroke="#006837" stroke-width="1.7" stroke-dasharray="1.4 1.7"/>
<circle cx="212.04" cy="276.80" r="6.6" fill="none" stroke="#006837" stroke-width="1.7" stroke-dasharray="1.4 1.7"/>
<circle cx="225.55" cy="274.78" r="6.6" fill="none" stroke="#006837" stroke-width="1.7" stroke-dasharray="1.4 1.7"/>
<circle cx="208.66" cy="290.32" r="6.6" fill="none" stroke="#006837" stroke-width="1.7" stroke-dasharray="1.4 1.7"/>
<circle cx="306.99" cy="275.45" r="6.6" fill="none" stroke="#006837" stroke-width="1.7" stroke-dasharray="1.4 1.7"/>
<rect x="27.00" y="61.50" width="3.40" height="78.50" fill="#231f20"/>
<rect x="106.30" y="61.50" width="3.40" height="78.50" fill="#231f20"/>
<rect x="185.60" y="61.50" width="3.40" height="78.50" fill="#231f20"/>
<rect x="264.90" y="61.50" width="3.40" height="78.50" fill="#231f20"/>
<rect x="344.20" y="61.50" width="3.40" height="78.50" fill="#231f20"/>
<rect x="423.50" y="61.50" width="3.40" height="78.50" fill="#231f20"/>
<rect x="27.00" y="140.00" width="3.40" height="78.50" fill="#843e99"/>
<rect x="106.30" y="140.00" width="3.40" height="78.50" fill="#843e99"/>
<rect x="185.60" y="140.00" width="3.40" height="78.50" fill="#843e99"/>
<rect x="264.90" y="140.00" width="3.40" height="78.50" fill="#843e99"/>
<rect x="344.20" y="140.00" width="3.40" height="78.50" fill="#843e99"/>
<rect x="423.50" y="140.00" width="3.40" height="78.50" fill="#843e99"/>
<rect x="27.00" y="218.50" width="3.40" height="82.50" fill="#006837"/>
<rect x="106.30" y="218.50" width="3.40" height="82.50" fill="#006837"/>
<rect x="185.60" y="218.50" width="3.40" height="82.50" fill="#006837"/>
<rect x="264.90" y="218.50" width="3.40" height="82.50" fill="#006837"/>
<rect x="344.20" y="218.50" width="3.40" height="82.50" fill="#006837"/>
<rect x="423.50" y="218.50" width="3.40" height="82.50" fill="#006837"/>
<rect x="27.00" y="61.50" width="399.90" height="3.10" fill="#231f20"/>
<rect x="27.00" y="140.00" width="399.90" height="3.40" fill="#843e99"/>
<rect x="27.00" y="218.50" width="399.90" height="3.90" fill="#006837"/>
<rect x="27.00" y="297.60" width="399.90" height="3.40" fill="#006837"/>
</g>
<text x="429.00" y="20.10" font-size="27" fill="#231f20" textLength="14.40" lengthAdjust="spacingAndGlyphs">B</text>
<polygon points="494.2,136.9 496.6,134.3 499.5,126.2 502.5,118.2 506.1,109.6 509.0,104.2 512.0,99.1 515.2,95.2 518.6,91.8 525.2,88.4 532.5,83.7 539.9,80.1 545.0,76.6 550.1,72.7 554.5,74.2 560.4,73.5 569.2,73.8 574.0,72.0 578.0,70.5 583.8,63.9 586.8,65.5 590.9,66.6 596.4,66.6 599.7,58.9 605.5,53.0 614.3,47.9 623.1,49.3 631.9,41.7 635.6,40.5 640.0,42.0 645.1,33.9 652.4,30.6 657.1,35.4 659.8,28.8 664.2,29.1 667.1,27.3 672.2,24.1 672.2,50.5 664.2,55.9 659.8,53.7 657.1,59.6 652.4,54.5 645.1,56.7 640.0,62.5 631.9,63.3 623.1,66.6 614.3,64.7 605.5,68.4 599.7,71.3 596.4,77.9 590.9,77.2 586.8,76.4 583.8,74.6 578.0,79.1 569.2,82.0 560.4,81.2 554.5,81.3 550.1,80.4 545.0,82.6 539.9,85.0 532.5,88.4 525.2,92.5 518.6,95.5 515.2,98.8 512.0,102.1 509.0,105.8 506.1,110.6 502.5,118.2 499.5,126.2 496.6,134.3 494.2,136.9" fill="#9c8abe" stroke="none"/>
<polyline points="494.2,136.9 496.6,134.3 499.5,126.2 502.5,118.2 506.1,109.6 509.0,104.2 512.0,99.1 515.2,95.2 518.6,91.8 525.2,88.4 532.5,83.7 539.9,80.1 545.0,76.6 550.1,72.7 554.5,74.2 560.4,73.5 569.2,73.8 574.0,72.0 578.0,70.5 583.8,63.9 586.8,65.5 590.9,66.6 596.4,66.6 599.7,58.9 605.5,53.0 614.3,47.9 623.1,49.3 631.9,41.7 635.6,40.5 640.0,42.0 645.1,33.9 652.4,30.6 657.1,35.4 659.8,28.8 664.2,29.1 667.1,27.3 672.2,24.1" fill="none" stroke="#231f20" stroke-width="0.8"/>
<polyline points="494.2,136.9 496.6,134.3 499.5,126.2 502.5,118.2 506.1,110.6 509.0,105.8 512.0,102.1 515.2,98.8 518.6,95.5 525.2,92.5 532.5,88.4 539.9,85.0 545.0,82.6 550.1,80.4 554.5,81.3 560.4,81.2 569.2,82.0 578.0,79.1 583.8,74.6 586.8,76.4 590.9,77.2 596.4,77.9 599.7,71.3 605.5,68.4 614.3,64.7 623.1,66.6 631.9,63.3 640.0,62.5 645.1,56.7 652.4,54.5 657.1,59.6 659.8,53.7 664.2,55.9 672.2,50.5" fill="none" stroke="#231f20" stroke-width="0.8"/>
<polyline points="494.2,136.9 496.6,134.3 499.5,126.2 502.5,118.2 506.1,110.1 509.0,105.0 512.0,100.6 515.2,97.0 518.6,93.7 525.2,90.3 532.5,85.9 539.9,82.6 545.0,80.0 550.1,77.1 554.5,78.2 560.4,77.1 569.2,77.9 578.0,74.9 583.8,69.5 586.8,71.7 590.9,72.1 596.4,72.1 599.7,66.9 605.5,61.8 614.3,56.7 623.1,57.8 631.9,53.7 635.6,51.1 640.0,52.0 645.1,45.7 652.4,43.2 657.1,47.1 659.8,41.7 664.2,42.7 672.2,37.3" fill="none" stroke="#231f20" stroke-width="1.0"/>
<line x1="493.6" y1="16.4" x2="493.6" y2="138.20000000000002" stroke="#231f20" stroke-width="1.2"/>
<line x1="493.0" y1="137.4" x2="675.6" y2="137.4" stroke="#231f20" stroke-width="1.6"/>
<line x1="488.4" y1="137.40" x2="493.6" y2="137.40" stroke="#231f20" stroke-width="1.2"/>
<text x="487.00" y="140.40" font-size="8.8" fill="#231f20" text-anchor="end">0</text>
<line x1="488.4" y1="113.20" x2="493.6" y2="113.20" stroke="#231f20" stroke-width="1.2"/>
<text x="487.00" y="116.20" font-size="8.8" fill="#231f20" text-anchor="end">2000</text>
<line x1="488.4" y1="89.00" x2="493.6" y2="89.00" stroke="#231f20" stroke-width="1.2"/>
<text x="487.00" y="92.00" font-size="8.8" fill="#231f20" text-anchor="end">4000</text>
<line x1="488.4" y1="64.80" x2="493.6" y2="64.80" stroke="#231f20" stroke-width="1.2"/>
<text x="487.00" y="67.80" font-size="8.8" fill="#231f20" text-anchor="end">6000</text>
<line x1="488.4" y1="40.60" x2="493.6" y2="40.60" stroke="#231f20" stroke-width="1.2"/>
<text x="487.00" y="43.60" font-size="8.8" fill="#231f20" text-anchor="end">8000</text>
<line x1="488.4" y1="16.40" x2="493.6" y2="16.40" stroke="#231f20" stroke-width="1.2"/>
<text x="487.00" y="19.40" font-size="8.8" fill="#231f20" text-anchor="end">10000</text>
<line x1="493.60" y1="137.4" x2="493.60" y2="142.20000000000002" stroke="#231f20" stroke-width="1.2"/>
<text x="493.60" y="152.40" font-size="8.8" fill="#231f20" text-anchor="middle">0</text>
<line x1="516.29" y1="137.4" x2="516.29" y2="140.20000000000002" stroke="#231f20" stroke-width="1.2"/>
<line x1="538.98" y1="137.4" x2="538.98" y2="142.20000000000002" stroke="#231f20" stroke-width="1.2"/>
<text x="538.98" y="152.40" font-size="8.8" fill="#231f20" text-anchor="middle">30</text>
<line x1="561.66" y1="137.4" x2="561.66" y2="140.20000000000002" stroke="#231f20" stroke-width="1.2"/>
<line x1="584.35" y1="137.4" x2="584.35" y2="142.20000000000002" stroke="#231f20" stroke-width="1.2"/>
<text x="584.35" y="152.40" font-size="8.8" fill="#231f20" text-anchor="middle">60</text>
<line x1="607.04" y1="137.4" x2="607.04" y2="140.20000000000002" stroke="#231f20" stroke-width="1.2"/>
<line x1="629.73" y1="137.4" x2="629.73" y2="142.20000000000002" stroke="#231f20" stroke-width="1.2"/>
<text x="629.73" y="152.40" font-size="8.8" fill="#231f20" text-anchor="middle">90</text>
<line x1="652.41" y1="137.4" x2="652.41" y2="140.20000000000002" stroke="#231f20" stroke-width="1.2"/>
<line x1="675.10" y1="137.4" x2="675.10" y2="142.20000000000002" stroke="#231f20" stroke-width="1.2"/>
<text x="675.10" y="152.40" font-size="8.8" fill="#231f20" text-anchor="middle">120</text>
<text transform="translate(456.10,76.60) rotate(-90)" x="0" y="0" font-size="10" fill="#231f20" text-anchor="middle" textLength="140.00" lengthAdjust="spacingAndGlyphs">SNAP-YAP intensity (arb. units)</text>
<polygon points="572.9,171.4 605.1,171.4 605.1,176.9 612.7,176.9 588.7,190.1 565.2,176.9 572.9,176.9" fill="#d1d2d4"/>
<polygon points="494.3,277.8 496.8,274.8 499.8,256.3 501.7,242.6 506.6,227.9 509.6,229.9 511.5,212.3 515.4,204.4 519.3,200.5 522.3,200.5 524.8,194.7 531.1,200.5 534.0,191.7 537.9,198.6 548.7,205.4 553.0,210.0 558.3,216.3 562.3,220.3 565.6,227.7 567.7,234.2 570.5,229.3 572.6,242.3 574.2,248.8 577.0,242.0 579.4,244.8 583.5,242.0 588.9,239.1 591.6,244.0 594.9,259.4 598.1,261.9 601.4,256.6 604.6,260.2 607.4,268.4 610.3,253.7 613.3,268.4 616.5,255.3 619.3,265.1 622.6,245.4 624.4,256.5 626.7,263.0 629.3,257.8 631.9,257.8 635.2,263.0 638.5,256.5 646.9,264.3 650.2,251.9 653.5,256.5 656.5,263.0 659.3,261.1 662.6,255.2 665.6,266.3 668.4,255.2 671.7,257.2 675.0,245.4 675.0,274.1 671.7,283.9 668.4,281.3 665.6,294.3 662.6,283.9 659.3,286.5 656.5,289.1 653.5,282.5 650.2,279.3 646.9,287.8 638.5,279.9 635.2,283.9 631.9,280.6 629.3,280.6 626.1,287.1 624.4,278.0 622.6,272.1 619.3,282.2 616.5,271.6 613.3,288.7 610.3,270.0 607.4,286.3 604.6,276.5 601.4,273.3 598.1,279.8 594.9,273.3 591.6,260.2 588.9,256.2 583.5,259.4 579.4,261.9 577.0,257.8 574.2,265.1 572.6,255.3 570.5,242.3 567.7,252.1 562.3,236.6 558.3,233.4 555.5,239.6 548.7,222.0 537.9,210.3 534.0,204.4 531.1,215.2 525.2,206.4 522.3,212.3 519.3,213.2 515.4,217.2 511.5,222.0 509.6,240.6 507.6,238.7 502.7,248.5 499.8,258.2 497.8,280.0 494.3,286.6" fill="#cce0cd" stroke="none"/>
<line x1="494.2" y1="282.6" x2="675.5" y2="282.6" stroke="#231f20" stroke-width="1.1" stroke-dasharray="1.1 2.6"/>
<polyline points="494.3,277.8 496.8,274.8 499.8,256.3 501.7,242.6 506.6,227.9 509.6,229.9 511.5,212.3 515.4,204.4 519.3,200.5 522.3,200.5 524.8,194.7 531.1,200.5 534.0,191.7 537.9,198.6 548.7,205.4 553.0,210.0 558.3,216.3 562.3,220.3 565.6,227.7 567.7,234.2 570.5,229.3 572.6,242.3 574.2,248.8 577.0,242.0 579.4,244.8 583.5,242.0 588.9,239.1 591.6,244.0 594.9,259.4 598.1,261.9 601.4,256.6 604.6,260.2 607.4,268.4 610.3,253.7 613.3,268.4 616.5,255.3 619.3,265.1 622.6,245.4 624.4,256.5 626.7,263.0 629.3,257.8 631.9,257.8 635.2,263.0 638.5,256.5 646.9,264.3 650.2,251.9 653.5,256.5 656.5,263.0 659.3,261.1 662.6,255.2 665.6,266.3 668.4,255.2 671.7,257.2 675.0,245.4" fill="none" stroke="#231f20" stroke-width="0.8"/>
<polyline points="494.3,286.6 497.8,280.0 499.8,258.2 502.7,248.5 507.6,238.7 509.6,240.6 511.5,222.0 515.4,217.2 519.3,213.2 522.3,212.3 525.2,206.4 531.1,215.2 534.0,204.4 537.9,210.3 548.7,222.0 555.5,239.6 558.3,233.4 562.3,236.6 567.7,252.1 570.5,242.3 572.6,255.3 574.2,265.1 577.0,257.8 579.4,261.9 583.5,259.4 588.9,256.2 591.6,260.2 594.9,273.3 598.1,279.8 601.4,273.3 604.6,276.5 607.4,286.3 610.3,270.0 613.3,288.7 616.5,271.6 619.3,282.2 622.6,272.1 624.4,278.0 626.1,287.1 629.3,280.6 631.9,280.6 635.2,283.9 638.5,279.9 646.9,287.8 650.2,279.3 653.5,282.5 656.5,289.1 659.3,286.5 662.6,283.9 665.6,294.3 668.4,281.3 671.7,283.9 675.0,274.1" fill="none" stroke="#231f20" stroke-width="0.8"/>
<polyline points="494.3,282.0 497.8,271.9 499.8,257.3 501.7,246.5 506.6,232.8 509.6,234.8 511.5,217.2 515.4,209.3 519.3,206.4 522.3,206.4 524.8,200.5 531.1,207.4 534.0,198.6 537.9,204.4 548.7,213.2 553.0,218.5 558.3,225.2 562.3,229.3 566.4,236.6 568.0,240.7 570.5,235.8 572.6,247.2 574.2,257.0 577.0,250.5 579.4,252.9 583.5,250.5 588.9,248.0 591.6,252.1 594.9,265.9 598.1,270.0 601.4,265.1 604.6,268.4 607.4,276.5 610.3,261.9 613.3,276.5 616.5,263.5 619.3,273.3 622.6,258.5 624.4,265.0 626.7,273.4 629.3,268.9 631.9,268.9 635.2,273.4 638.5,268.2 646.9,276.1 650.2,265.6 653.5,268.9 656.5,276.1 659.3,274.8 662.6,270.2 665.6,280.0 668.4,270.2 671.7,268.9 675.0,259.8" fill="none" stroke="#231f20" stroke-width="0.9"/>
<line x1="494.2" y1="173.9" x2="494.2" y2="297.1" stroke="#231f20" stroke-width="1.2"/>
<line x1="493.59999999999997" y1="296.3" x2="677.2" y2="296.3" stroke="#231f20" stroke-width="1.7"/>
<line x1="489.2" y1="282.60" x2="494.2" y2="282.60" stroke="#231f20" stroke-width="1.2"/>
<text x="487.80" y="285.60" font-size="8.6" fill="#231f20" text-anchor="end">0</text>
<line x1="489.2" y1="255.43" x2="494.2" y2="255.43" stroke="#231f20" stroke-width="1.2"/>
<text x="487.80" y="258.43" font-size="8.6" fill="#231f20" text-anchor="end">10</text>
<line x1="489.2" y1="228.25" x2="494.2" y2="228.25" stroke="#231f20" stroke-width="1.2"/>
<text x="487.80" y="231.25" font-size="8.6" fill="#231f20" text-anchor="end">20</text>
<line x1="489.2" y1="201.08" x2="494.2" y2="201.08" stroke="#231f20" stroke-width="1.2"/>
<text x="487.80" y="204.08" font-size="8.6" fill="#231f20" text-anchor="end">30</text>
<line x1="489.2" y1="173.90" x2="494.2" y2="173.90" stroke="#231f20" stroke-width="1.2"/>
<text x="487.80" y="176.90" font-size="8.6" fill="#231f20" text-anchor="end">40</text>
<line x1="494.20" y1="296.3" x2="494.20" y2="300.8" stroke="#231f20" stroke-width="1.2"/>
<text x="494.20" y="311.30" font-size="8.8" fill="#231f20" text-anchor="middle">0</text>
<line x1="516.99" y1="296.3" x2="516.99" y2="298.90000000000003" stroke="#231f20" stroke-width="1.2"/>
<line x1="539.77" y1="296.3" x2="539.77" y2="300.8" stroke="#231f20" stroke-width="1.2"/>
<text x="539.77" y="311.30" font-size="8.8" fill="#231f20" text-anchor="middle">30</text>
<line x1="562.56" y1="296.3" x2="562.56" y2="298.90000000000003" stroke="#231f20" stroke-width="1.2"/>
<line x1="585.35" y1="296.3" x2="585.35" y2="300.8" stroke="#231f20" stroke-width="1.2"/>
<text x="585.35" y="311.30" font-size="8.8" fill="#231f20" text-anchor="middle">60</text>
<line x1="608.14" y1="296.3" x2="608.14" y2="298.90000000000003" stroke="#231f20" stroke-width="1.2"/>
<line x1="630.92" y1="296.3" x2="630.92" y2="300.8" stroke="#231f20" stroke-width="1.2"/>
<text x="630.92" y="311.30" font-size="8.8" fill="#231f20" text-anchor="middle">90</text>
<line x1="653.71" y1="296.3" x2="653.71" y2="298.90000000000003" stroke="#231f20" stroke-width="1.2"/>
<line x1="676.50" y1="296.3" x2="676.50" y2="300.8" stroke="#231f20" stroke-width="1.2"/>
<text x="676.50" y="311.30" font-size="8.8" fill="#231f20" text-anchor="middle">120</text>
<text transform="translate(474.50,234.70) rotate(-90)" x="0" y="0" font-size="10" fill="#231f20" text-anchor="middle" textLength="136.20" lengthAdjust="spacingAndGlyphs">Halo-Pol2 intensity (arb. units)</text>
<text x="563.40" y="325.60" font-size="10" fill="#231f20" textLength="45.20" lengthAdjust="spacingAndGlyphs">time (min)</text>
<text x="14.20" y="366.80" font-size="27.5" fill="#231f20" textLength="18.20" lengthAdjust="spacingAndGlyphs">C</text>
<rect x="79.5" y="373.3" width="238.3" height="24.7" fill="#e6e7e8"/>
<text x="122.00" y="392.30" font-size="17.5" fill="#231f20" textLength="152.20" lengthAdjust="spacingAndGlyphs">negative feedback?</text>
<clipPath id="sphclip"><rect x="120" y="460" width="120" height="96.5"/></clipPath>
<circle cx="178.1" cy="515.0" r="46.4" fill="url(#sph)" clip-path="url(#sphclip)"/>
<path d="M 160.8 449.8 C 151 451.5 145.2 457.5 146.4 465 C 147.2 470 150.5 473 155.0 475.6" fill="none" stroke="#231f20" stroke-width="3.6"/>
<polygon points="161.9,478.3 153.2,470.7 154.8,475.8 150.5,480.0" fill="#231f20"/>
<path d="M 198.2 478.8 C 207 478 212.5 472.5 212.3 465.5 C 212.1 460 209.8 456.5 206.0 454.0" fill="none" stroke="#231f20" stroke-width="3.6"/>
<polygon points="196.9,450.2 208.7,448.5 205.8,453.6 205.2,458.2" fill="#231f20"/>
<rect x="159.0" y="423.5" width="39.6" height="28.2" rx="7" ry="7" fill="#9a89bf" stroke="#231f20" stroke-width="1.4"/>
<text x="163.40" y="444.80" font-size="18.7" fill="#231f20" textLength="31.50" lengthAdjust="spacingAndGlyphs">YAP</text>
<rect x="159.3" y="477.3" width="39.3" height="27.6" rx="7" ry="7" fill="#a7a9ac" stroke="#231f20" stroke-width="1.4"/>
<text x="162.40" y="496.60" font-size="13.8" fill="#231f20" textLength="32.60" lengthAdjust="spacingAndGlyphs">Med1</text>
<line x1="178.8" y1="505" x2="178.8" y2="514" stroke="#231f20" stroke-width="3"/>
<polygon points="173.9,510.6 183.7,510.6 178.8,523.9" fill="#231f20"/>
<rect x="159.2" y="524.3" width="39.4" height="27.0" rx="7.5" ry="7.5" fill="#98bd98" stroke="#231f20" stroke-width="1.4"/>
<text x="164.90" y="544.10" font-size="15.5" fill="#231f20" textLength="28.20" lengthAdjust="spacingAndGlyphs">Pol2</text>
<rect x="204.0" y="430.2" width="2.6" height="14.6" fill="#231f20"/>
<rect x="206.0" y="435.8" width="58.0" height="3.5" fill="#231f20"/>
<rect x="259.9" y="435.8" width="4.1" height="89.1" fill="#231f20"/>
<rect x="229.5" y="508.1" width="32.5" height="3.7" fill="#231f20"/>
<rect x="228.9" y="503.0" width="2.3" height="14.0" fill="#231f20"/>
<rect x="200.2" y="537.2" width="8" height="3.6" fill="#231f20"/>
<polygon points="206.0,533.8 217.8,539.0 206.2,544.0 208.6,539.0" fill="#231f20"/>
<rect x="223.7" y="534.9" width="3.0" height="15.0" fill="#231f20"/>
<rect x="223.7" y="534.9" width="10.5" height="3.3" fill="#231f20"/>
<polygon points="231.8,531.3 243.4,536.5 231.8,541.4 234.2,536.5" fill="#231f20"/>
<path d="M 132.60 553.77 L 133.60 553.32 L 134.60 552.86 L 135.60 552.40 L 136.60 551.94 L 137.60 551.48 L 138.60 551.03 L 139.60 550.61 L 140.60 550.20 L 141.59 549.83 L 142.59 549.49 L 143.59 549.19 L 144.59 548.94 L 145.59 548.73 L 146.59 548.57 L 147.59 548.46 L 148.59 548.41 L 149.59 548.41 L 150.59 548.46 L 151.59 548.57 L 152.59 548.73 L 153.59 548.93 L 154.59 549.19 L 155.59 549.49 L 156.59 549.82 L 157.59 550.20 L 158.58 550.60 L 159.58 551.03 L 160.58 551.47 L 161.58 551.93 L 162.58 552.39 L 163.58 552.86 L 164.58 553.31 L 165.58 553.76 L 166.58 554.19 L 167.58 554.59 L 168.58 554.96 L 169.58 555.30 L 170.58 555.60 L 171.58 555.86 L 172.58 556.07 L 173.58 556.23 L 174.58 556.34 L 175.58 556.39 L 176.57 556.39 L 177.57 556.34 L 178.57 556.24 L 179.57 556.08 L 180.57 555.87 L 181.57 555.62 L 182.57 555.32 L 183.57 554.98 L 184.57 554.61 L 185.57 554.21 L 186.57 553.78 L 187.57 553.34 L 188.57 552.88 L 189.57 552.42 L 190.57 551.95 L 191.57 551.49 L 192.57 551.05 L 193.56 550.62 L 194.56 550.22 L 195.56 549.84 L 196.56 549.50 L 197.56 549.20 L 198.56 548.94 L 199.56 548.73 L 200.56 548.57 L 201.56 548.46 L 202.56 548.41 L 203.56 548.41 L 204.56 548.46 L 205.56 548.56 L 206.56 548.72 L 207.56 548.93 L 208.56 549.18 L 209.56 549.48 L 210.55 549.81 L 211.55 550.18 L 212.55 550.59 L 213.55 551.01 L 214.55 551.46 L 215.55 551.91 L 216.55 552.38 L 217.55 552.84 L 218.55 553.30 L 219.55 553.75 L 220.55 554.17 L 221.55 554.58 L 222.55 554.95 L 223.55 555.29 L 224.55 555.59 L 225.55 555.85 L 226.55 556.06 L 227.55 556.22 L 228.54 556.33 L 229.54 556.39 L 230.54 556.39 L 231.54 556.34 L 232.54 556.24 L 233.54 556.08 L 234.54 555.88 L 235.54 555.62 L 236.54 555.33 L 237.54 554.99 L 238.54 554.62 L 239.54 554.22 L 240.54 553.80 L 241.54 553.35 L 242.54 552.89 L 243.54 552.43 L 244.54 551.97 L 245.53 551.51 L 246.53 551.06 L 247.53 550.63 L 248.53 550.23 L 249.53 549.85 L 250.53 549.51 L 251.53 549.21 L 252.53 548.95 L 253.53 548.74 L 254.53 548.58 L 255.53 548.47 L 256.53 548.41 L 257.53 548.40 L 258.53 548.46 L 259.53 548.56 L 260.53 548.71 L 261.53 548.92 L 262.52 549.17 L 263.52 549.47 L 264.52 549.80 L 265.52 550.17 L 266.52 550.57 L 267.52 551.00 L 268.52 551.44 L 269.52 551.90 L 270.52 552.36 L 271.52 552.83 L 272.52 553.29 L 273.52 553.73 L 274.52 554.16 L 275.52 554.57 L 276.52 554.94 L 277.52 555.28 L 278.52 555.58 L 279.52 555.84 L 280.51 556.06 L 281.51 556.22 L 282.51 556.33 L 283.51 556.39 L 284.51 556.40 L 285.51 556.35 L 286.51 556.24 L 287.51 556.09 L 288.51 555.88 L 289.51 555.63 L 290.51 555.34 L 291.51 555.00 L 292.51 554.63 L 293.51 554.23 L 294.51 553.81 L 295.51 553.37 L 296.51 552.91 L 297.50 552.44 L 298.50 551.98 L 299.50 551.52 L 300.50 551.07 L 301.50 550.65 L 302.50 550.24 L 303.50 549.86 L 304.50 549.52 L 305.50 549.22" fill="none" stroke="#231f20" stroke-width="1.85"/>
<path d="M 141.00 554.03 L 142.00 553.59 L 142.99 553.14 L 143.99 552.68 L 144.99 552.22 L 145.98 551.76 L 146.98 551.31 L 147.98 550.87 L 148.98 550.45 L 149.97 550.06 L 150.97 549.70 L 151.97 549.38 L 152.96 549.09 L 153.96 548.86 L 154.96 548.66 L 155.95 548.52 L 156.95 548.44 L 157.95 548.40 L 158.95 548.42 L 159.94 548.49 L 160.94 548.62 L 161.94 548.79 L 162.93 549.02 L 163.93 549.29 L 164.93 549.60 L 165.92 549.95 L 166.92 550.33 L 167.92 550.74 L 168.92 551.17 L 169.91 551.62 L 170.91 552.08 L 171.91 552.54 L 172.90 553.00 L 173.90 553.46 L 174.90 553.90 L 175.89 554.32 L 176.89 554.71 L 177.89 555.07 L 178.88 555.40 L 179.88 555.69 L 180.88 555.93 L 181.88 556.12 L 182.87 556.27 L 183.87 556.36 L 184.87 556.40 L 185.86 556.38 L 186.86 556.32 L 187.86 556.20 L 188.85 556.02 L 189.85 555.80 L 190.85 555.54 L 191.85 555.23 L 192.84 554.88 L 193.84 554.50 L 194.84 554.10 L 195.83 553.67 L 196.83 553.22 L 197.83 552.76 L 198.82 552.30 L 199.82 551.83 L 200.82 551.38 L 201.82 550.94 L 202.81 550.52 L 203.81 550.12 L 204.81 549.76 L 205.80 549.43 L 206.80 549.14 L 207.80 548.89 L 208.79 548.69 L 209.79 548.54 L 210.79 548.45 L 211.78 548.40 L 212.78 548.41 L 213.78 548.48 L 214.78 548.59 L 215.77 548.76 L 216.77 548.98 L 217.77 549.24 L 218.76 549.54 L 219.76 549.89 L 220.76 550.26 L 221.75 550.67 L 222.75 551.10 L 223.75 551.54 L 224.75 552.00 L 225.74 552.47 L 226.74 552.93 L 227.74 553.38 L 228.73 553.83 L 229.73 554.25 L 230.73 554.65 L 231.72 555.02 L 232.72 555.35 L 233.72 555.64 L 234.72 555.89 L 235.71 556.09 L 236.71 556.25 L 237.71 556.35 L 238.70 556.40 L 239.70 556.39 L 240.70 556.33 L 241.69 556.22 L 242.69 556.06 L 243.69 555.84 L 244.68 555.58 L 245.68 555.28 L 246.68 554.94 L 247.68 554.57 L 248.67 554.16 L 249.67 553.74 L 250.67 553.29 L 251.66 552.83 L 252.66 552.37 L 253.66 551.91 L 254.65 551.45 L 255.65 551.01 L 256.65 550.58 L 257.65 550.18 L 258.64 549.81 L 259.64 549.48 L 260.64 549.18 L 261.63 548.93 L 262.63 548.72 L 263.63 548.56 L 264.62 548.46 L 265.62 548.41 L 266.62 548.41 L 267.62 548.46 L 268.61 548.57 L 269.61 548.73 L 270.61 548.94 L 271.60 549.19 L 272.60 549.49 L 273.60 549.83 L 274.59 550.20 L 275.59 550.60 L 276.59 551.03 L 277.58 551.47 L 278.58 551.93 L 279.58 552.39 L 280.58 552.85 L 281.57 553.31 L 282.57 553.75 L 283.57 554.18 L 284.56 554.58 L 285.56 554.96 L 286.56 555.30 L 287.55 555.60 L 288.55 555.85 L 289.55 556.06 L 290.55 556.22 L 291.54 556.33 L 292.54 556.39 L 293.54 556.39 L 294.53 556.34 L 295.53 556.24 L 296.53 556.09 L 297.52 555.88 L 298.52 555.63 L 299.52 555.34 L 300.52 555.00 L 301.51 554.63 L 302.51 554.23 L 303.51 553.81 L 304.50 553.37 L 305.50 552.91" fill="none" stroke="#231f20" stroke-width="1.85"/>
<rect x="200.0" y="543.0" width="18.3" height="2.9" fill="#b3282e"/>
<rect x="207.0" y="543.0" width="4.0" height="14.9" fill="#b3282e"/>
<text x="85.30" y="532.30" font-size="11" fill="#231f20" textLength="50.70" lengthAdjust="spacingAndGlyphs">transcript.</text>
<text x="81.30" y="542.30" font-size="11" fill="#231f20" textLength="57.40" lengthAdjust="spacingAndGlyphs">condensate</text>
<text x="246.60" y="540.40" font-size="14" fill="#231f20" textLength="77.10" lengthAdjust="spacingAndGlyphs">transcription</text>
<text x="267.90" y="474.70" font-size="13.8" fill="#b0393d" textLength="52.00" lengthAdjust="spacingAndGlyphs">negative</text>
<text x="267.90" y="489.00" font-size="13.8" fill="#b0393d" textLength="61.00" lengthAdjust="spacingAndGlyphs">feedback?</text>
<text x="190.00" y="580.00" font-size="21.5" fill="#b3282e" textLength="38.60" lengthAdjust="spacingAndGlyphs">DRB</text>
<text x="393.40" y="362.70" font-size="27" fill="#231f20" textLength="18.60" lengthAdjust="spacingAndGlyphs">D</text>
<text x="439.70" y="374.50" font-size="12.4" fill="#231f20" textLength="73.00" lengthAdjust="spacingAndGlyphs">DRB addition</text>
<polygon points="472.2,378.3 480.0,378.3 476.1,386.1" fill="#f01818"/>
<polygon points="457.8,551.0 459.6,538.5 463.8,524.5 467.0,507.0 469.5,500.5 473.5,490.5 478.5,478.0 485.0,462.0 490.2,455.0 495.0,452.0 500.0,450.0 505.0,452.0 510.0,449.0 515.5,431.8 518.0,452.0 525.0,455.0 530.0,458.0 535.0,460.0 540.0,466.0 545.0,462.0 551.8,469.3 557.0,474.9 562.0,470.0 566.4,468.3 570.3,470.3 573.3,467.4 577.5,481.7 580.1,481.0 588.3,476.8 590.9,477.1 595.7,498.6 598.4,483.8 603.0,499.7 609.8,506.6 616.6,506.6 624.6,495.2 629.0,498.0 634.9,481.5 638.3,488.4 641.0,478.0 647.4,471.3 661.1,491.8 663.4,478.1 667.9,472.4 671.3,480.4 671.3,519.1 667.9,529.4 664.5,521.4 661.1,538.5 647.4,518.0 638.3,531.6 634.9,522.5 629.0,539.0 624.6,536.2 616.6,544.2 609.8,547.6 603.0,535.0 598.4,520.3 595.7,531.8 590.9,515.2 580.1,515.2 574.0,500.0 570.3,510.3 563.5,505.5 558.6,508.4 551.8,496.7 544.0,484.0 537.1,493.7 530.0,488.0 522.5,481.0 515.6,476.1 511.7,485.9 507.8,476.1 503.4,476.1 500.0,482.0 497.5,480.8 492.8,486.7 484.5,503.2 478.6,523.3 476.3,522.1 466.8,545.8 459.7,569.4" fill="#cde1cd" stroke="none"/>
<polyline points="457.8,551.0 459.6,538.5 463.8,524.5 467.0,507.0 469.5,500.5 473.5,490.5 478.5,478.0 485.0,462.0 490.2,455.0 495.0,452.0 500.0,450.0 505.0,452.0 510.0,449.0 515.5,431.8 518.0,452.0 525.0,455.0 530.0,458.0 535.0,460.0 540.0,466.0 545.0,462.0 551.8,469.3 557.0,474.9 562.0,470.0 566.4,468.3 570.3,470.3 573.3,467.4 577.5,481.7 580.1,481.0 588.3,476.8 590.9,477.1 595.7,498.6 598.4,483.8 603.0,499.7 609.8,506.6 616.6,506.6 624.6,495.2 629.0,498.0 634.9,481.5 638.3,488.4 641.0,478.0 647.4,471.3 661.1,491.8 663.4,478.1 667.9,472.4 671.3,480.4" fill="none" stroke="#231f20" stroke-width="0.9"/>
<polyline points="459.4,563.3 464.9,534.7 470.0,522.0 475.9,514.8 479.2,499.4 483.6,488.4 489.1,476.3 493.5,471.9 496.8,476.3 501.2,469.7 505.6,475.2 511.7,465.4 514.4,473.0 519.5,462.5 529.3,469.3 537.1,476.1 544.0,466.4 551.8,479.1 558.6,476.1 564.5,469.3 570.3,482.0 574.2,474.2 580.1,496.7 587.9,494.7 595.7,500.6 598.4,507.7 603.0,520.3 609.8,525.9 616.6,524.9 624.6,515.7 629.0,519.0 634.9,503.2 638.3,513.4 646.3,492.9 661.1,514.6 663.4,503.0 667.9,506.6 671.3,495.2" fill="none" stroke="#231f20" stroke-width="0.9"/>
<polyline points="459.7,569.4 466.8,545.8 476.3,522.1 478.6,523.3 484.5,503.2 492.8,486.7 497.5,480.8 500.0,482.0 503.4,476.1 507.8,476.1 511.7,485.9 515.6,476.1 522.5,481.0 530.0,488.0 537.1,493.7 544.0,484.0 551.8,496.7 558.6,508.4 563.5,505.5 570.3,510.3 574.0,500.0 580.1,515.2 590.9,515.2 595.7,531.8 598.4,520.3 603.0,535.0 609.8,547.6 616.6,544.2 624.6,536.2 629.0,539.0 634.9,522.5 638.3,531.6 647.4,518.0 661.1,538.5 664.5,521.4 667.9,529.4 671.3,519.1" fill="none" stroke="#231f20" stroke-width="0.9"/>
<polygon points="457.4,541.0 466.8,517.4 473.9,493.8 479.8,474.9 485.7,458.3 490.4,438.3 501.1,438.3 504.6,441.8 508.2,439.0 510.0,442.6 517.8,439.7 523.7,438.7 529.6,440.7 534.5,441.6 539.3,447.5 545.2,444.6 551.1,454.3 556.0,451.4 560.9,450.4 566.7,441.6 572.6,449.5 577.5,457.3 581.4,457.3 588.3,445.5 594.1,452.4 599.6,456.5 605.3,455.3 609.8,456.5 617.8,450.8 621.2,454.2 624.2,443.9 628.0,456.5 638.3,430.3 641.7,456.5 645.1,447.3 652.0,448.5 661.1,457.6 667.9,442.8 671.3,457.6 671.3,475.8 667.9,469.0 661.1,480.4 652.0,472.4 645.1,469.0 641.7,480.4 638.3,459.9 628.0,477.0 624.2,465.6 621.2,471.3 617.8,469.0 609.8,477.0 605.3,473.5 599.6,474.7 594.1,471.0 588.3,466.1 581.4,473.0 578.5,474.9 572.6,468.0 566.7,460.2 560.9,467.1 556.0,467.1 551.1,471.0 545.2,462.2 539.3,464.1 534.5,460.2 529.6,457.3 523.7,455.3 517.8,455.3 510.0,460.2 507.0,460.2 501.1,456.0 490.4,453.6 485.7,470.2 479.8,488.0 473.9,508.0 466.8,531.5 457.4,552.8" fill="#508255" stroke="none"/>
<polyline points="457.4,541.0 466.8,517.4 473.9,493.8 479.8,474.9 485.7,458.3 490.4,438.3 501.1,438.3 504.6,441.8 508.2,439.0 510.0,442.6 517.8,439.7 523.7,438.7 529.6,440.7 534.5,441.6 539.3,447.5 545.2,444.6 551.1,454.3 556.0,451.4 560.9,450.4 566.7,441.6 572.6,449.5 577.5,457.3 581.4,457.3 588.3,445.5 594.1,452.4 599.6,456.5 605.3,455.3 609.8,456.5 617.8,450.8 621.2,454.2 624.2,443.9 628.0,456.5 638.3,430.3 641.7,456.5 645.1,447.3 652.0,448.5 661.1,457.6 667.9,442.8 671.3,457.6" fill="none" stroke="#231f20" stroke-width="0.9"/>
<polyline points="457.4,546.9 466.8,524.5 473.9,500.9 479.8,481.0 485.7,464.3 490.4,446.5 501.1,446.5 505.8,450.8 510.0,451.4 517.8,448.5 523.7,447.5 529.6,449.5 534.5,452.4 539.3,456.3 545.2,452.4 551.1,462.2 556.0,459.2 560.9,458.3 566.7,451.4 572.6,458.3 578.5,466.1 581.4,466.1 588.3,456.3 594.1,461.2 599.6,465.6 605.3,464.4 609.8,466.7 617.8,459.9 621.2,462.2 624.2,454.2 628.0,465.6 638.3,443.9 641.7,467.8 645.1,457.6 652.0,458.7 661.1,467.8 667.9,454.2 671.3,466.7" fill="none" stroke="#231f20" stroke-width="0.9"/>
<polyline points="457.4,552.8 466.8,531.5 473.9,508.0 479.8,488.0 485.7,470.2 490.4,453.6 501.1,456.0 507.0,460.2 510.0,460.2 517.8,455.3 523.7,455.3 529.6,457.3 534.5,460.2 539.3,464.1 545.2,462.2 551.1,471.0 556.0,467.1 560.9,467.1 566.7,460.2 572.6,468.0 578.5,474.9 581.4,473.0 588.3,466.1 594.1,471.0 599.6,474.7 605.3,473.5 609.8,477.0 617.8,469.0 621.2,471.3 624.2,465.6 628.0,477.0 638.3,459.9 641.7,480.4 645.1,469.0 652.0,472.4 661.1,480.4 667.9,469.0 671.3,475.8" fill="none" stroke="#231f20" stroke-width="0.9"/>
<line x1="457.6" y1="552.9" x2="676" y2="552.9" stroke="#231f20" stroke-width="1.5" stroke-dasharray="1.5 4.0"/>
<line x1="475.5" y1="390.5" x2="475.5" y2="568" stroke="#231f20" stroke-width="1.8" stroke-dasharray="4.2 2.8"/>
<line x1="457.6" y1="390.5" x2="457.6" y2="573" stroke="#231f20" stroke-width="1.6"/>
<line x1="456.8" y1="571.8" x2="675.6" y2="571.8" stroke="#231f20" stroke-width="2.2"/>
<line x1="450.6" y1="552.60" x2="457.6" y2="552.60" stroke="#231f20" stroke-width="1.7"/>
<text x="447.90" y="556.50" font-size="11" fill="#231f20" text-anchor="end">0</text>
<line x1="450.6" y1="509.70" x2="457.6" y2="509.70" stroke="#231f20" stroke-width="1.7"/>
<text x="447.90" y="513.60" font-size="11" fill="#231f20" text-anchor="end">20</text>
<line x1="450.6" y1="466.80" x2="457.6" y2="466.80" stroke="#231f20" stroke-width="1.7"/>
<text x="447.90" y="470.70" font-size="11" fill="#231f20" text-anchor="end">40</text>
<line x1="450.6" y1="423.90" x2="457.6" y2="423.90" stroke="#231f20" stroke-width="1.7"/>
<text x="447.90" y="427.80" font-size="11" fill="#231f20" text-anchor="end">60</text>
<line x1="457.60" y1="571.8" x2="457.60" y2="579.4" stroke="#231f20" stroke-width="1.9"/>
<text x="457.60" y="592.30" font-size="11" fill="#231f20" text-anchor="middle">0</text>
<line x1="484.75" y1="571.8" x2="484.75" y2="576.0" stroke="#231f20" stroke-width="1.9"/>
<line x1="511.90" y1="571.8" x2="511.90" y2="579.4" stroke="#231f20" stroke-width="1.9"/>
<text x="511.90" y="592.30" font-size="11" fill="#231f20" text-anchor="middle">30</text>
<line x1="539.05" y1="571.8" x2="539.05" y2="576.0" stroke="#231f20" stroke-width="1.9"/>
<line x1="566.20" y1="571.8" x2="566.20" y2="579.4" stroke="#231f20" stroke-width="1.9"/>
<text x="566.20" y="592.30" font-size="11" fill="#231f20" text-anchor="middle">60</text>
<line x1="593.35" y1="571.8" x2="593.35" y2="576.0" stroke="#231f20" stroke-width="1.9"/>
<line x1="620.50" y1="571.8" x2="620.50" y2="579.4" stroke="#231f20" stroke-width="1.9"/>
<text x="620.50" y="592.30" font-size="11" fill="#231f20" text-anchor="middle">90</text>
<line x1="647.65" y1="571.8" x2="647.65" y2="576.0" stroke="#231f20" stroke-width="1.9"/>
<line x1="674.80" y1="571.8" x2="674.80" y2="579.4" stroke="#231f20" stroke-width="1.9"/>
<text x="674.80" y="592.30" font-size="11" fill="#231f20" text-anchor="middle">120</text>
<text x="535.10" y="610.10" font-size="14" fill="#231f20" textLength="61.70" lengthAdjust="spacingAndGlyphs">time (min)</text>
<text transform="translate(427.90,481.80) rotate(-90)" x="0" y="0" font-size="15" fill="#231f20" text-anchor="middle" textLength="201.50" lengthAdjust="spacingAndGlyphs">Halo-Pol2 intensity (arb. units)</text>
<rect x="486.1" y="539.4" width="17.6" height="9.4" fill="#508255" stroke="#231f20" stroke-width="1.2"/>
<rect x="486.1" y="556.3" width="17.6" height="9.1" fill="#cde1cd" stroke="#231f20" stroke-width="1.2"/>
<text x="506.50" y="547.20" font-size="11" fill="#231f20" textLength="23.30" lengthAdjust="spacingAndGlyphs">DRB</text>
<text x="506.50" y="564.60" font-size="11.2" fill="#231f20" textLength="70.70" lengthAdjust="spacingAndGlyphs">DMSO control</text>
<rect x="536.6" y="345.4" width="136.9" height="83.4" fill="#ffffff" stroke="#3a3a3a" stroke-width="1.1"/>
<line x1="565.8" y1="353.6" x2="565.8" y2="420.0" stroke="#231f20" stroke-width="1.0"/>
<line x1="565.8" y1="406.3" x2="666.4" y2="406.3" stroke="#231f20" stroke-width="1.0"/>
<line x1="563.4" y1="353.52" x2="565.8" y2="353.52" stroke="#231f20" stroke-width="1.0"/>
<text x="562.90" y="356.02" font-size="7.0" fill="#231f20" text-anchor="end" font-weight="bold">40</text>
<line x1="563.4" y1="366.74" x2="565.8" y2="366.74" stroke="#231f20" stroke-width="1.0"/>
<text x="562.90" y="369.24" font-size="7.0" fill="#231f20" text-anchor="end" font-weight="bold">30</text>
<line x1="563.4" y1="379.96" x2="565.8" y2="379.96" stroke="#231f20" stroke-width="1.0"/>
<text x="562.90" y="382.46" font-size="7.0" fill="#231f20" text-anchor="end" font-weight="bold">20</text>
<line x1="563.4" y1="393.18" x2="565.8" y2="393.18" stroke="#231f20" stroke-width="1.0"/>
<text x="562.90" y="395.68" font-size="7.0" fill="#231f20" text-anchor="end" font-weight="bold">10</text>
<line x1="563.4" y1="406.40" x2="565.8" y2="406.40" stroke="#231f20" stroke-width="1.0"/>
<text x="562.90" y="408.90" font-size="7.0" fill="#231f20" text-anchor="end" font-weight="bold">0</text>
<line x1="563.4" y1="419.62" x2="565.8" y2="419.62" stroke="#231f20" stroke-width="1.0"/>
<text x="562.90" y="422.12" font-size="7.0" fill="#231f20" text-anchor="end" font-weight="bold">-10</text>
<line x1="586.75" y1="406.3" x2="586.75" y2="408.1" stroke="#231f20" stroke-width="1.0"/>
<line x1="607.70" y1="406.3" x2="607.70" y2="409.3" stroke="#231f20" stroke-width="1.0"/>
<line x1="628.65" y1="406.3" x2="628.65" y2="408.1" stroke="#231f20" stroke-width="1.0"/>
<line x1="649.60" y1="406.3" x2="649.60" y2="409.3" stroke="#231f20" stroke-width="1.0"/>
<text x="607.70" y="417.30" font-size="7.1" fill="#231f20" text-anchor="middle" font-weight="bold">50</text>
<text x="649.40" y="417.30" font-size="7.1" fill="#231f20" text-anchor="middle" font-weight="bold">100</text>
<text x="598.50" y="427.20" font-size="7.4" fill="#231f20" textLength="35.50" lengthAdjust="spacingAndGlyphs" font-weight="bold">time (min)</text>
<text transform="translate(548.50,385.90) rotate(-90)" x="0" y="0" font-size="7.3" fill="#231f20" text-anchor="middle" textLength="66.80" lengthAdjust="spacingAndGlyphs" font-weight="bold">&#916;Pol2 (DRB-DMSO)</text>
<polyline points="565.8,405.6 568.0,400.6 569.6,402.2 571.4,413.5 574.1,403.4 576.4,391.6 578.0,398.8 580.2,398.4 581.6,389.8 583.2,397.7 585.0,393.9 586.6,397.7 588.4,403.4 590.0,403.4 591.6,397.7 592.9,406.8 595.2,392.0 596.8,398.4 600.2,392.0 603.5,391.6 605.8,396.6 608.1,399.3 610.3,397.7 612.6,387.5 614.9,386.4 618.3,383.0 620.1,402.2 622.8,392.0 624.6,384.1 626.9,380.7 628.4,381.9 629.6,372.8 631.4,385.3 633.6,375.1 635.9,369.4 638.2,368.3 639.8,364.9 641.3,371.7 643.1,368.3 644.3,372.8 646.5,376.2 648.1,372.8 649.9,366.0 651.7,386.4 653.3,385.3 655.6,381.9 659.0,378.5 660.8,378.9 661.7,388.0 663.1,372.8 664.9,390.9" fill="none" stroke="#1c7a1f" stroke-width="1.4" stroke-linejoin="round"/>
</svg></div></body></html>
